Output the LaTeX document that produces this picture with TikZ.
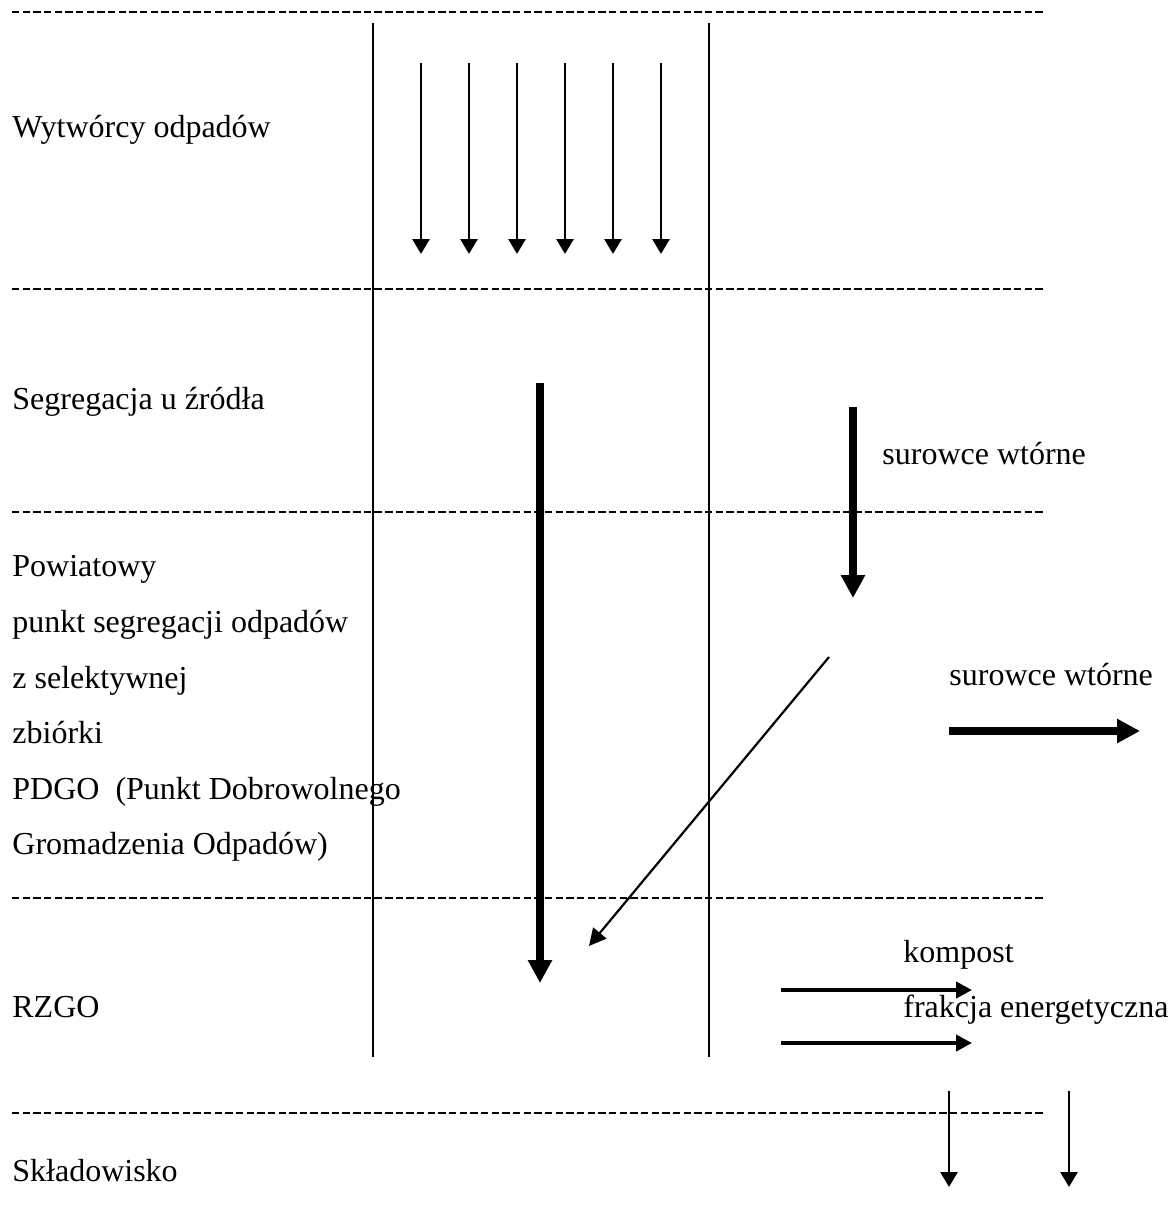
\documentclass[tikz,border=0pt]{standalone}
\usepackage{fontspec}
\setmainfont{Liberation Serif}
\usetikzlibrary{arrows.meta}
\begin{document}
\begin{tikzpicture}[x=0.5pt,y=-0.5pt,
  lbl/.style={anchor=base west,inner sep=0pt,font=\fontsize{16pt}{19pt}\selectfont},
  sepline/.style={line width=1.2pt,dash pattern=on 3.7pt off 1.63pt},
  colline/.style={line width=1.3pt},
  thinarrow/.style={line width=1.4pt,-{Triangle[width=8.5pt,length=7.5pt]}},
  thickarrow/.style={line width=4pt,-{Triangle[width=11.5pt,length=11.5pt]}},
  midarrow/.style={line width=2.2pt,-{Triangle[width=8pt,length=8pt]}},
  diagarrow/.style={line width=1.1pt,-{Triangle[width=8.5pt,length=8.5pt]}}]
\useasboundingbox (0,0) rectangle (1172,1226);

% separator lines
\coordinate (s1a) at (12,12);   \coordinate (s1b) at (1043,12);
\coordinate (s2a) at (12,289);  \coordinate (s2b) at (1045,289);
\coordinate (s3a) at (12,512);  \coordinate (s3b) at (1045,512);
\coordinate (s4a) at (12,898);  \coordinate (s4b) at (1045,898);
\coordinate (s5a) at (12,1113); \coordinate (s5b) at (1045,1113);
\foreach \i in {1,...,5} {\draw[sepline] (s\i a) -- (s\i b);}

% column lines
\coordinate (c1a) at (373,23); \coordinate (c1b) at (373,1057);
\coordinate (c2a) at (709,23); \coordinate (c2b) at (709,1057);
\draw[colline] (c1a) -- (c1b);
\draw[colline] (c2a) -- (c2b);

% texts
\node[lbl] (t1) at (12,137) {Wytwórcy odpadów};
\node[lbl] (t2) at (12,409) {Segregacja u źródła};
\node[lbl] (t3) at (882,464) {surowce wtórne};
\node[lbl] (t4) at (12,576) {Powiatowy};
\node[lbl] (t5) at (12,632) {punkt segregacji odpadów};
\node[lbl] (t6) at (12,688) {z selektywnej};
\node[lbl] (t7) at (12,743) {zbiórki};
\node[lbl] (t8) at (12,799) {PDGO\ \ (Punkt Dobrowolnego};
\node[lbl] (t9) at (12,854) {Gromadzenia Odpadów)};
\node[lbl] (t10) at (949,685) {surowce wtórne};
\node[lbl] (t11) at (903,962) {kompost};
\node[lbl] (t12) at (903,1017) {frakcja energetyczna};
\node[lbl] (t13) at (12,1017) {RZGO};
\node[lbl] (t14) at (12,1181) {Składowisko};

% six thin arrows
\foreach \x [count=\k] in {421,469,517,565,613,661} {
  \coordinate (w\k a) at (\x,63);
  \coordinate (w\k b) at (\x,254);
  \draw[thinarrow] (w\k a) -- (w\k b);
}

% thick arrows
\coordinate (m1a) at (540,383); \coordinate (m1b) at (540,983);
\draw[thickarrow] (m1a) -- (m1b);
\coordinate (m2a) at (853,407); \coordinate (m2b) at (853,598);
\draw[thickarrow] (m2a) -- (m2b);
\coordinate (m3a) at (949,731); \coordinate (m3b) at (1140,731);
\draw[thickarrow] (m3a) -- (m3b);

% diagonal arrow
\coordinate (d1a) at (829,657); \coordinate (d1b) at (589,946);
\draw[diagarrow] (d1a) -- (d1b);

% medium arrows
\coordinate (k1a) at (781,990);  \coordinate (k1b) at (972,990);
\coordinate (k2a) at (781,1043); \coordinate (k2b) at (972,1043);
\draw[midarrow] (k1a) -- (k1b);
\draw[midarrow] (k2a) -- (k2b);

% bottom arrows
\coordinate (b1a) at (949,1091);  \coordinate (b1b) at (949,1187);
\coordinate (b2a) at (1069,1091); \coordinate (b2b) at (1069,1187);
\draw[thinarrow] (b1a) -- (b1b);
\draw[thinarrow] (b2a) -- (b2b);
\end{tikzpicture}
\end{document}
